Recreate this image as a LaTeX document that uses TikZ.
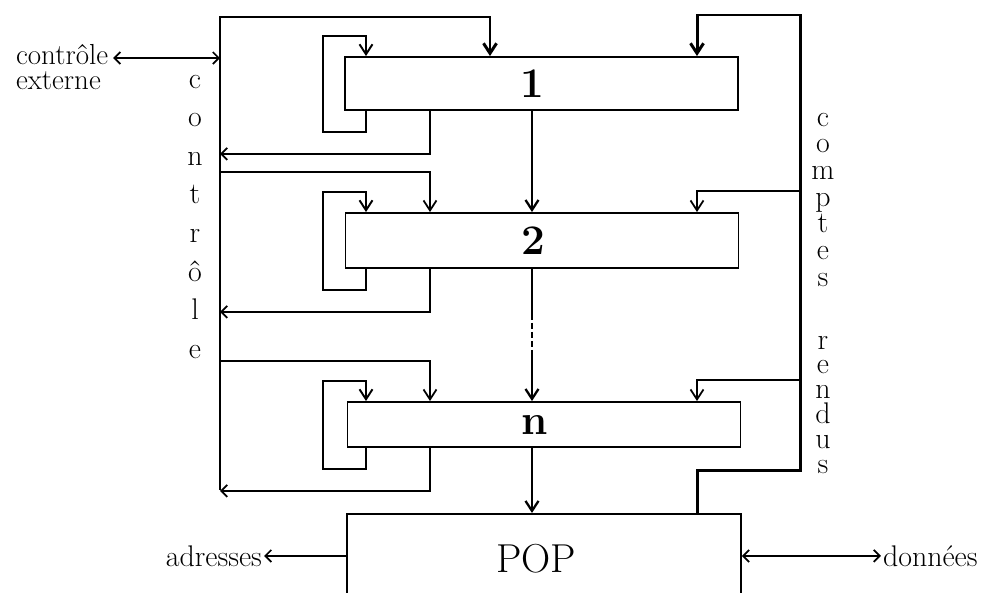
\documentclass[tikz,border=0pt]{standalone}
\usepackage{tikz}
\usetikzlibrary{positioning, arrows.meta, calc}

\begin{document}
\begin{tikzpicture}[
  x=0.2mm, y=-0.2mm,
  font=\fontsize{17}{20}\selectfont,
  stage/.style={draw, line width=1.1pt, minimum width=78.6mm, inner sep=0pt,
    font=\fontsize{24}{24}\selectfont\bfseries},
  bus/.style={line width=1.7pt},
  wire/.style={line width=1pt},
  down/.style={wire, -{Straight Barb[length=2mm, width=2.6mm]}},
  back/.style={wire, -{Straight Barb[length=1.2mm, width=2.4mm]}},
  both/.style={wire, {Straight Barb[length=1.2mm, width=2.4mm]}-{Straight Barb[length=1.2mm, width=2.4mm]}},
  letter/.style={anchor=base, inner sep=0pt},
]
  \useasboundingbox (0,0) rectangle (994,592);
  \clip (0,0) rectangle (994,592);
  \fill[white] (0,0) rectangle (994,592);

  \node[stage, minimum height=10.6mm] (b1) at (541.5,83.5) {\hspace*{-3.6mm}1};
  \node[stage, minimum height=11mm] (b2) at (542,240.5) {\hspace*{-3.6mm}2};
  \node[stage, minimum height=9mm] (bn) at (544,424.5) {\hspace*{-3.6mm}n};
  \node[draw, line width=1.1pt, minimum width=78.8mm, inner sep=0pt,
    text height=11.8mm, text depth=5mm, anchor=north,
    font=\fontsize{23}{23}\selectfont] (pop) at (544,513) {\hspace*{-3.2mm}POP};

  \coordinate (ctop) at (220,17);
  \coordinate (cbot) at (220,490);
  \coordinate (rtop) at (800,15);
  \coordinate (rbot) at (800,470);
  \coordinate (loopx) at (366,0);
  \coordinate (ctlx) at (430,0);
  \coordinate (ctlfirst) at (490,0);
  \coordinate (midx) at (532,0);
  \coordinate (crx) at (697,0);

  \draw[bus, -{Straight Barb[length=2mm, width=2.6mm]}] (cbot) -- (ctop) -| (b1.north -| ctlfirst);
  \draw[bus, -{Straight Barb[length=2mm, width=2.6mm]}] (pop.north -| crx) |- (rbot) -- (rtop) -| (b1.north -| crx);

  \foreach \s in {b1,b2,bn} {
    \draw[down, line width=1.1pt] (\s.south -| loopx) -- ++(0,21) -- ++(-43,0)
      |- ($(\s.north -| loopx)+(0,-20)$) -- (\s.north -| loopx);
    \draw[back] (\s.south -| ctlx) -- ++(0,43) -- ($(\s.south -| ctop)+(0,43)$);
  }
  \foreach \s in {b2,bn} {
    \draw[down] ($(\s.north -| ctop)+(0,-40)$) -| (\s.north -| ctlx);
    \draw[down] ($(\s.north -| rtop)+(0,-21)$) -| (\s.north -| crx);
  }

  \draw[down, line width=1.3pt] (b1.south -| midx) -- (b2.north -| midx);
  \draw[wire, line width=1.3pt] (b2.south -| midx) -- ++(0,45);
  \draw[wire, line width=1.3pt, dash pattern=on 1.2mm off 0.6mm]
    ($(b2.south -| midx)+(0,45)$) -- ($(bn.north -| midx)+(0,-45)$);
  \draw[down, line width=1.3pt] ($(bn.north -| midx)+(0,-45)$) -- (bn.north -| midx);
  \draw[down, line width=1.3pt] (bn.south -| midx) -- (pop.north -| midx);

  \foreach \l [count=\i] in {c,o,n,t,r,ô,l,e}
    \node[letter] (ctl\i) at (195,49.4+38.6*\i) {\l};
  \foreach \l [count=\i] in {c,o,m,p,t,e,s}
    \node[letter] (cpt\i) at (823,99.3+26.7*\i) {\l};
  \foreach \l [count=\i] in {r,e,n,d,u,s}
    \node[letter] (rds\i) at (823,324.2+24.8*\i) {\l};

  \node[anchor=base west, inner sep=1pt, font=\fontsize{16.5}{17}\selectfont] (extA) at (14,64) {contrôle};
  \node[anchor=base west, inner sep=1pt, font=\fontsize{16.5}{17}\selectfont] (extB) at (14,89) {externe};
  \draw[both] ($(extA.base east)+(3,-6)$) -- ($(extA.base east -| ctop)+(0,-6)$);

  \node[left=16.4mm of pop, inner sep=1pt] (adr) {adresses};
  \node[right=27.8mm of pop, inner sep=1pt] (don) {données};
  \draw[back] (pop) -- (adr);
  \draw[both] (pop) -- (don);
\end{tikzpicture}
\end{document}
